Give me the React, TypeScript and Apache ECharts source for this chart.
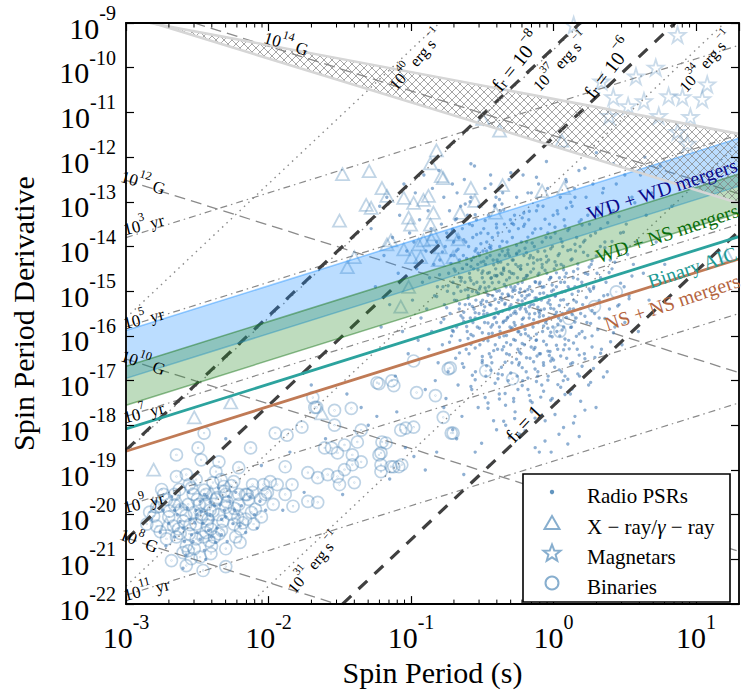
import React, { useEffect, useRef } from "react";
import * as echarts from "echarts";

const FONT = "'Liberation Serif', 'DejaVu Serif', serif";

// axis extents (log10 of spin period in s, log10 of period derivative)
const logPExtent = [-3, Math.log10(20)];
const logPdotExtent = [-22, -9];

// Radio pulsars [log10 P, log10 Pdot] (outer / spread part)
const radioPsrsSpread = [
  [-1.28,-13.6],[-1.25,-14.9],[-1.22,-13.1],[-1.21,-15.8],
  [-1.19,-14.2],[-1.17,-12.9],[-1.15,-15.3],[-1.13,-13.8],[-1.11,-16.9],
  [-1.09,-14.6],[-1.08,-13.3],[-1.06,-15.9],[-1.05,-12.6],[-1.03,-14.1],[-1.02,-16.4],[-1.01,-13.7],
  [-0.99,-15.2],[-0.98,-13.9],[-0.97,-12.8],[-0.96,-14.5],[-0.95,-16.1],[-0.94,-13.4],[-0.93,-15.6],[-0.92,-14.8],[-0.91,-12.4],[-0.9,-17.2],
  [-0.895,-14.1],[-0.89,-15.4],[-0.88,-13.2],[-0.875,-16.3],[-0.87,-14.7],[-0.86,-13.6],[-0.855,-15.9],[-0.85,-12.7],[-0.84,-14.4],[-0.835,-15.1],[-0.83,-17.0],[-0.82,-13.9],[-0.815,-14.9],[-0.81,-16.6],[-0.805,-12.3],
  [-0.798,-14.3],[-0.79,-15.7],[-0.787,-13.5],[-0.78,-16.2],[-0.776,-14.9],[-0.77,-12.9],[-0.766,-15.3],[-0.76,-14.0],[-0.755,-17.4],[-0.75,-13.7],[-0.745,-15.0],[-0.74,-16.8],[-0.736,-14.6],[-0.73,-13.2],[-0.726,-15.5],[-0.72,-14.2],[-0.716,-16.0],[-0.71,-12.6],[-0.706,-14.8],[-0.703,-15.9],[-0.701,-13.9],[-0.708,-18.1],
  [-0.698,-14.5],[-0.695,-15.2],[-0.69,-13.4],[-0.687,-16.5],[-0.683,-14.1],[-0.68,-15.8],[-0.677,-12.8],[-0.673,-14.9],[-0.67,-17.1],[-0.666,-13.8],[-0.662,-15.4],[-0.66,-14.3],[-0.656,-16.1],[-0.652,-13.1],[-0.65,-15.0],[-0.646,-14.7],[-0.643,-17.8],[-0.64,-13.6],[-0.636,-15.6],[-0.633,-14.2],[-0.63,-16.7],[-0.626,-12.5],[-0.622,-14.8],[-0.62,-15.3],[-0.616,-13.9],[-0.613,-16.3],[-0.61,-14.4],[-0.606,-15.9],[-0.603,-13.3],[-0.601,-14.96],
  [-0.598,-15.1],[-0.596,-14.0],[-0.593,-16.4],[-0.59,-13.5],[-0.587,-14.7],[-0.584,-15.6],[-0.58,-12.9],[-0.577,-14.3],[-0.574,-17.2],[-0.57,-15.0],[-0.567,-13.8],[-0.564,-16.0],[-0.561,-14.5],[-0.558,-15.4],[-0.555,-12.2],[-0.551,-14.1],[-0.548,-16.8],[-0.545,-15.2],[-0.541,-13.4],[-0.538,-14.8],[-0.535,-15.8],[-0.532,-14.4],[-0.529,-17.6],[-0.526,-13.1],[-0.523,-15.5],[-0.52,-14.2],[-0.517,-16.2],[-0.514,-14.9],[-0.511,-13.7],[-0.508,-15.3],[-0.505,-18.4],[-0.503,-14.6],[-0.501,-16.6],[-0.586,-13.0],[-0.566,-15.7],[-0.543,-14.05],[-0.527,-15.05],[-0.509,-14.35],
  [-0.498,-15.2],[-0.495,-14.1],[-0.492,-16.1],[-0.49,-13.6],[-0.487,-14.8],[-0.484,-15.7],[-0.481,-12.7],[-0.478,-14.4],[-0.475,-16.9],[-0.472,-15.0],[-0.469,-13.9],[-0.466,-15.5],[-0.463,-14.6],[-0.46,-17.5],[-0.457,-13.3],[-0.454,-14.9],[-0.451,-16.4],[-0.448,-15.3],[-0.445,-14.2],[-0.442,-12.4],[-0.439,-15.8],[-0.436,-14.7],[-0.433,-16.6],[-0.43,-13.8],[-0.427,-15.1],[-0.424,-14.3],[-0.421,-17.9],[-0.418,-15.6],[-0.415,-13.1],[-0.412,-14.95],[-0.409,-16.2],[-0.406,-14.5],[-0.403,-15.4],[-0.401,-13.5],[-0.496,-14.55],[-0.483,-15.35],[-0.468,-14.25],[-0.455,-15.95],[-0.44,-14.05],[-0.428,-15.75],[-0.413,-14.65],[-0.404,-12.9],
  [-0.398,-15.0],[-0.396,-14.3],[-0.393,-16.3],[-0.39,-13.7],[-0.387,-15.5],[-0.384,-14.8],[-0.381,-17.3],[-0.378,-14.0],[-0.375,-15.9],[-0.372,-13.2],[-0.369,-14.6],[-0.366,-16.7],[-0.363,-15.2],[-0.36,-14.1],[-0.357,-12.8],[-0.354,-15.7],[-0.351,-14.5],[-0.348,-16.0],[-0.345,-13.5],[-0.342,-15.3],[-0.339,-14.2],[-0.336,-18.0],[-0.333,-14.9],[-0.33,-16.4],[-0.327,-13.9],[-0.324,-15.6],[-0.321,-14.4],[-0.318,-17.0],[-0.315,-15.1],[-0.312,-12.5],[-0.309,-14.7],[-0.306,-15.8],[-0.303,-13.4],[-0.301,-16.2],[-0.397,-14.65],[-0.385,-15.25],[-0.371,-14.35],[-0.359,-15.45],[-0.346,-14.85],[-0.334,-15.65],[-0.32,-14.15],[-0.308,-15.35],[-0.389,-16.85],[-0.362,-13.05],[-0.337,-17.55],
  [-0.298,-15.3],[-0.295,-14.6],[-0.292,-16.6],[-0.289,-13.8],[-0.286,-15.0],[-0.283,-14.3],[-0.28,-17.4],[-0.277,-15.7],[-0.274,-13.3],[-0.271,-14.9],[-0.268,-16.1],[-0.265,-14.4],[-0.262,-15.5],[-0.259,-12.9],[-0.256,-16.9],[-0.253,-14.7],[-0.25,-15.2],[-0.247,-13.6],[-0.244,-15.9],[-0.241,-14.1],[-0.238,-18.2],[-0.235,-15.4],[-0.232,-14.5],[-0.229,-16.4],[-0.226,-13.9],[-0.223,-15.1],[-0.22,-14.8],[-0.217,-17.0],[-0.214,-12.4],[-0.211,-15.6],[-0.208,-14.2],[-0.205,-16.2],[-0.203,-13.5],[-0.201,-15.0],[-0.296,-15.85],[-0.284,-14.95],[-0.27,-15.45],[-0.258,-14.15],[-0.245,-16.65],[-0.233,-14.95],[-0.221,-15.75],[-0.209,-13.25],[-0.273,-17.85],[-0.249,-14.45],[-0.227,-15.35],
  [-0.198,-15.4],[-0.195,-14.7],[-0.192,-16.8],[-0.189,-13.9],[-0.186,-15.1],[-0.183,-14.4],[-0.18,-17.2],[-0.177,-16.0],[-0.174,-13.4],[-0.171,-15.6],[-0.168,-14.9],[-0.165,-16.5],[-0.162,-14.2],[-0.159,-15.3],[-0.156,-12.8],[-0.153,-17.7],[-0.15,-15.0],[-0.147,-13.7],[-0.144,-15.8],[-0.141,-14.5],[-0.138,-16.3],[-0.135,-14.0],[-0.132,-15.5],[-0.129,-18.5],[-0.126,-14.8],[-0.123,-16.1],[-0.12,-13.2],[-0.117,-15.2],[-0.114,-14.3],[-0.111,-16.9],[-0.108,-15.7],[-0.105,-12.6],[-0.102,-14.6],[-0.197,-15.95],[-0.184,-14.65],[-0.17,-15.35],[-0.157,-16.25],[-0.143,-14.25],[-0.13,-15.15],[-0.116,-16.45],[-0.104,-15.45],[-0.163,-17.45],
  [-0.098,-15.5],[-0.095,-14.8],[-0.092,-16.4],[-0.089,-13.6],[-0.086,-15.2],[-0.083,-17.1],[-0.08,-14.4],[-0.077,-15.9],[-0.074,-13.1],[-0.071,-16.6],[-0.068,-14.9],[-0.065,-15.4],[-0.062,-14.1],[-0.059,-17.9],[-0.056,-15.7],[-0.053,-13.8],[-0.05,-16.2],[-0.047,-14.6],[-0.044,-15.1],[-0.041,-12.7],[-0.038,-16.9],[-0.035,-14.3],[-0.032,-15.6],[-0.029,-13.5],[-0.026,-16.0],[-0.023,-15.3],[-0.02,-14.7],[-0.017,-18.6],[-0.014,-15.0],[-0.011,-16.5],[-0.008,-14.0],[-0.005,-15.8],[-0.003,-13.3],[-0.096,-15.05],[-0.072,-15.55],[-0.049,-14.35],[-0.025,-16.35],[-0.009,-17.4],
  [0.002,-15.4],[0.005,-14.5],[0.008,-16.7],[0.011,-13.7],[0.014,-15.1],[0.017,-17.5],[0.02,-14.9],[0.023,-15.9],[0.026,-13.2],[0.029,-16.3],[0.032,-14.2],[0.035,-15.6],[0.038,-18.2],[0.041,-14.7],[0.044,-16.0],[0.047,-12.9],[0.05,-15.2],[0.053,-14.4],[0.056,-16.8],[0.059,-13.9],[0.062,-15.5],[0.065,-14.0],[0.068,-17.0],[0.071,-15.8],[0.074,-13.4],[0.077,-14.8],[0.08,-16.2],[0.083,-15.0],[0.086,-12.5],[0.089,-14.6],[0.092,-16.5],[0.096,-15.3],
  [0.102,-14.9],[0.106,-16.1],[0.11,-13.6],[0.114,-15.4],[0.118,-17.3],[0.122,-14.3],[0.126,-15.8],[0.13,-13.1],[0.134,-16.6],[0.138,-14.7],[0.142,-15.2],[0.146,-12.7],[0.15,-17.8],[0.154,-14.1],[0.158,-15.6],[0.162,-13.8],[0.166,-16.3],[0.17,-14.5],[0.174,-15.0],[0.178,-12.3],[0.182,-16.9],[0.186,-14.0],[0.19,-15.5],[0.194,-13.4],[0.198,-14.8],
  [0.204,-15.3],[0.21,-13.9],[0.216,-16.4],[0.222,-14.6],[0.228,-12.9],[0.234,-15.7],[0.24,-14.2],[0.246,-17.1],[0.252,-13.5],[0.258,-15.0],[0.264,-14.4],[0.27,-16.0],[0.276,-12.6],[0.282,-14.9],[0.288,-15.5],[0.294,-13.7],[0.298,-17.6],[0.249,-14.95],
  [0.305,-14.6],[0.312,-13.3],[0.32,-15.6],[0.328,-14.0],[0.336,-16.3],[0.344,-12.8],[0.352,-15.1],[0.36,-13.9],[0.368,-14.8],[0.376,-16.8],[0.384,-13.1],[0.392,-15.4],[0.398,-14.3],
  [0.41,-14.5],[0.42,-13.2],[0.43,-15.8],[0.44,-12.6],[0.45,-14.1],[0.46,-15.3],[0.47,-13.7],[0.48,-16.2],[0.495,-14.9],
  [0.51,-13.5],[0.53,-15.1],[0.55,-12.9],[0.56,-14.4],[0.58,-13.9],[0.595,-15.9],
  [0.61,-12.4],[0.63,-14.6],[0.65,-13.3],[0.67,-15.2],[0.69,-12.8],
  [0.72,-13.9],[0.75,-12.2],[0.78,-14.4],[0.83,-13.1],[0.88,-14.7],[0.95,-12.7],
  [-0.58,-12.15],[-0.44,-12.6],[-0.3,-12.35],[-0.18,-12.8],[-0.05,-12.1],[0.09,-12.55],[0.22,-12.25],[0.35,-12.7],[0.5,-12.4],[0.64,-12.0],[-0.38,-12.95],[-0.12,-12.45],[0.15,-12.9],[0.42,-12.15],[0.3,-11.9],
  [-2.05,-18.9],[-1.75,-19.5],[-1.48,-19.55],[-2.08,-20.3],[-2.02,-19.9],[-1.04,-18.5],[-0.98,-18.7],[-1.24,-17.8],[-0.77,-17.6],[-0.68,-18.3],[-0.55,-18.6],[-0.82,-18.6],[-1.45,-17.3],[-1.3,-18.0],[-1.6,-18.3],[-1.15,-19.2],[-0.9,-19.0],[-1.85,-18.6],[-1.9,-19.9],[-1.35,-17.6],[-1.1,-17.7],[-0.63,-19.1],[-0.45,-18.9],[-2.3,-18.3],[-1.7,-17.1],
];

// Radio pulsars, dense core of the normal-pulsar island
const radioPsrsCore = [
  [-0.62,-13.05],[-0.48,-13.42],[-0.35,-13.18],[-0.22,-13.36],[-0.11,-13.09],[0.03,-13.27],[0.18,-13.45],[0.31,-13.12],[0.46,-13.33],[0.57,-13.02],[-0.55,-13.29],[-0.41,-13.07],[-0.29,-13.48],[-0.17,-13.21],[-0.06,-13.39],[0.09,-13.14],[0.24,-13.3],[0.38,-13.47],[-0.68,-13.38],[0.12,-13.01],
  [-0.71,-13.62],[-0.63,-13.85],[-0.57,-13.53],[-0.51,-13.94],[-0.46,-13.71],[-0.4,-13.58],[-0.36,-13.88],[-0.31,-13.66],[-0.26,-13.97],[-0.21,-13.55],[-0.18,-13.79],[-0.13,-13.61],[-0.08,-13.9],[-0.04,-13.7],[0.01,-13.57],[0.05,-13.83],[0.1,-13.64],[0.15,-13.95],[0.2,-13.52],[0.26,-13.76],[0.33,-13.6],[0.41,-13.89],[0.49,-13.68],[-0.44,-13.99],[-0.28,-13.51],[-0.15,-13.92],[-0.02,-13.8],[0.08,-13.54],[-0.54,-13.73],[0.22,-13.86],
  [-0.78,-14.12],[-0.72,-14.38],[-0.67,-14.06],[-0.61,-14.27],[-0.58,-14.45],[-0.53,-14.15],[-0.49,-14.33],[-0.45,-14.02],[-0.42,-14.41],[-0.38,-14.19],[-0.35,-14.48],[-0.32,-14.08],[-0.29,-14.3],[-0.26,-14.17],[-0.23,-14.43],[-0.2,-14.04],[-0.17,-14.26],[-0.14,-14.37],[-0.11,-14.11],[-0.08,-14.47],[-0.05,-14.22],[-0.02,-14.05],[0.01,-14.34],[0.04,-14.16],[0.07,-14.44],[0.1,-14.09],[0.13,-14.28],[0.17,-14.39],[0.21,-14.13],[0.25,-14.46],[0.3,-14.21],[0.36,-14.03],[0.43,-14.35],[0.52,-14.18],[-0.64,-14.49],[-0.56,-14.24],[-0.47,-14.1],[-0.39,-14.36],[-0.31,-14.21],[-0.19,-14.14],[-0.09,-14.29],[0.02,-14.42],[0.12,-14.07],[0.27,-14.32],[-0.7,-14.2],
  [-0.8,-14.63],[-0.74,-14.88],[-0.69,-14.55],[-0.65,-14.77],[-0.62,-14.97],[-0.59,-14.6],[-0.56,-14.84],[-0.53,-14.52],[-0.5,-14.7],[-0.48,-14.93],[-0.45,-14.58],[-0.43,-14.81],[-0.4,-14.66],[-0.38,-14.99],[-0.35,-14.54],[-0.33,-14.75],[-0.3,-14.9],[-0.28,-14.61],[-0.25,-14.83],[-0.23,-14.51],[-0.21,-14.72],[-0.18,-14.96],[-0.16,-14.57],[-0.13,-14.79],[-0.11,-14.64],[-0.08,-14.91],[-0.06,-14.53],[-0.03,-14.74],[-0.01,-14.86],[0.02,-14.59],[0.05,-14.8],[0.08,-14.68],[0.11,-14.95],[0.14,-14.56],[0.17,-14.73],[0.2,-14.87],[0.24,-14.62],[0.28,-14.94],[0.33,-14.7],[0.39,-14.58],[0.47,-14.82],[0.55,-14.66],[-0.66,-14.69],[-0.52,-14.95],[-0.44,-14.71],[-0.36,-14.62],[-0.27,-14.98],[-0.19,-14.65],[-0.1,-14.84],[-0.02,-14.69],[0.07,-14.52],[0.15,-14.9],[-0.58,-14.76],[-0.31,-14.56],[0.0,-14.97],
  [-0.82,-15.12],[-0.75,-15.37],[-0.7,-15.05],[-0.66,-15.28],[-0.63,-15.47],[-0.6,-15.16],[-0.57,-15.34],[-0.54,-15.02],[-0.51,-15.25],[-0.49,-15.44],[-0.46,-15.09],[-0.44,-15.31],[-0.41,-15.18],[-0.39,-15.49],[-0.36,-15.06],[-0.34,-15.27],[-0.31,-15.41],[-0.29,-15.13],[-0.26,-15.35],[-0.24,-15.03],[-0.22,-15.22],[-0.19,-15.46],[-0.17,-15.08],[-0.14,-15.3],[-0.12,-15.15],[-0.09,-15.42],[-0.07,-15.04],[-0.04,-15.26],[-0.02,-15.38],[0.01,-15.11],[0.04,-15.32],[0.07,-15.19],[0.1,-15.45],[0.13,-15.07],[0.16,-15.24],[0.19,-15.39],[0.23,-15.14],[0.27,-15.43],[0.32,-15.21],[0.38,-15.08],[0.45,-15.33],[0.53,-15.17],[-0.68,-15.21],[-0.55,-15.48],[-0.47,-15.23],[-0.37,-15.14],[-0.28,-15.49],[-0.2,-15.16],[-0.11,-15.36],[-0.03,-15.2],[0.06,-15.02],[0.14,-15.4],[-0.59,-15.29],[-0.32,-15.07],[0.02,-15.47],
  [-0.77,-15.62],[-0.71,-15.88],[-0.65,-15.55],[-0.61,-15.79],[-0.58,-15.97],[-0.55,-15.6],[-0.52,-15.83],[-0.49,-15.52],[-0.46,-15.71],[-0.43,-15.94],[-0.41,-15.58],[-0.38,-15.8],[-0.35,-15.67],[-0.33,-15.99],[-0.3,-15.54],[-0.27,-15.76],[-0.25,-15.91],[-0.22,-15.63],[-0.2,-15.85],[-0.17,-15.51],[-0.15,-15.73],[-0.12,-15.96],[-0.1,-15.57],[-0.07,-15.78],[-0.05,-15.65],[-0.02,-15.92],[0.01,-15.53],[0.03,-15.74],[0.06,-15.87],[0.09,-15.59],[0.12,-15.81],[0.15,-15.69],[0.18,-15.95],[0.22,-15.56],[0.26,-15.72],[0.31,-15.86],[0.36,-15.61],[0.42,-15.93],[0.5,-15.7],[-0.63,-15.68],[-0.5,-15.93],[-0.4,-15.7],[-0.32,-15.58],[-0.23,-15.97],[-0.14,-15.64],[-0.04,-15.83],[0.05,-15.66],[0.13,-15.52],[0.2,-15.9],[-0.29,-15.82],
  [-0.73,-16.14],[-0.66,-16.38],[-0.6,-16.06],[-0.55,-16.27],[-0.5,-16.46],[-0.46,-16.11],[-0.42,-16.33],[-0.38,-16.03],[-0.35,-16.24],[-0.31,-16.42],[-0.28,-16.08],[-0.25,-16.3],[-0.22,-16.17],[-0.19,-16.49],[-0.16,-16.05],[-0.13,-16.26],[-0.1,-16.4],[-0.07,-16.12],[-0.04,-16.34],[-0.01,-16.02],[0.02,-16.21],[0.05,-16.45],[0.08,-16.07],[0.11,-16.29],[0.14,-16.16],[0.18,-16.43],[0.22,-16.04],[0.27,-16.25],[0.33,-16.39],[0.4,-16.13],[-0.58,-16.19],[-0.44,-16.47],[-0.33,-16.15],[-0.24,-16.36],[-0.12,-16.09],[-0.03,-16.44],[0.07,-16.31],[0.16,-16.01],[0.29,-16.48],[-0.36,-16.31],
  [-0.64,-16.62],[-0.57,-16.88],[-0.5,-16.55],[-0.44,-16.77],[-0.39,-16.96],[-0.34,-16.59],[-0.3,-16.83],[-0.26,-16.52],[-0.22,-16.71],[-0.18,-16.94],[-0.14,-16.58],[-0.11,-16.8],[-0.07,-16.66],[-0.04,-16.99],[0.0,-16.54],[0.04,-16.76],[0.08,-16.9],[0.12,-16.63],[0.17,-16.85],[0.22,-16.51],[0.28,-16.73],[0.35,-16.92],[-0.47,-16.67],[-0.36,-16.87],[-0.24,-16.6],[-0.13,-16.74],[-0.02,-16.56],[0.1,-16.97],[0.2,-16.68],[-0.55,-16.98],
  [-0.58,-17.13],[-0.48,-17.38],[-0.41,-17.06],[-0.34,-17.29],[-0.28,-17.47],[-0.22,-17.11],[-0.17,-17.33],[-0.12,-17.02],[-0.07,-17.24],[-0.02,-17.44],[0.03,-17.09],[0.08,-17.31],[0.13,-17.19],[0.19,-17.46],[0.26,-17.04],[-0.38,-17.41],[-0.25,-17.2],[-0.09,-17.37],[0.05,-17.15],[-0.15,-17.49],
  [-0.46,-17.62],[-0.35,-17.91],[-0.27,-17.7],[-0.2,-18.12],[-0.13,-17.84],[-0.06,-18.35],[0.01,-17.76],[0.07,-18.05],[0.14,-17.95],[0.22,-17.66],[-0.31,-18.28],[-0.1,-18.6],[0.1,-18.42],[-0.4,-18.1],[0.18,-18.25],
];

// Radio millisecond pulsars
const radioPsrsMsp = [
  [-2.82,-20.1],[-2.79,-19.7],[-2.76,-20.4],[-2.74,-19.9],[-2.72,-20.7],[-2.7,-20.2],[-2.68,-19.6],[-2.66,-20.5],[-2.64,-20.0],[-2.62,-19.8],[-2.6,-20.3],[-2.58,-20.9],[-2.56,-19.5],[-2.55,-20.1],[-2.53,-20.6],[-2.51,-19.9],[-2.5,-20.4],[-2.48,-19.7],[-2.46,-20.2],[-2.45,-20.8],[-2.43,-19.6],[-2.41,-20.0],[-2.4,-20.5],[-2.38,-19.8],[-2.36,-20.3],[-2.35,-19.4],[-2.33,-20.1],[-2.31,-19.9],[-2.29,-20.6],[-2.27,-19.7],[-2.25,-20.2],[-2.23,-19.5],[-2.21,-20.0],[-2.19,-19.8],[-2.16,-20.4],[-2.13,-19.6],[-2.1,-20.0],[-2.06,-19.7],[-2.6,-21.2],[-2.44,-21.0],
  [-2.47,-19.93],[-2.39,-20.12],[-2.52,-20.18],[-2.34,-19.78],[-2.57,-19.85],[-2.42,-20.35],[-2.3,-20.05],[-2.62,-20.15],[-2.45,-19.55],[-2.37,-20.62],[-2.28,-19.6],[-2.54,-20.45],[-2.2,-20.25],[-2.66,-19.9],[-2.48,-20.55],[-2.41,-19.72],[-2.33,-20.45],[-2.59,-20.6],[-2.24,-19.9],[-2.5,-20.0],
];

// X-ray / gamma-ray pulsars
const xrayGammaPsrs = [
  [-1.481,-12.383],[-1.294,-12.316],[-1.204,-12.692],[-1.169,-12.869],[-1.315,-13.068],[-1.28,-13.134],[-1.051,-12.913],[-0.982,-13.024],[-0.878,-12.869],[-1.017,-13.356],
  [-0.843,-13.245],[-1.502,-13.422],[-1.003,-13.51],[-0.864,-13.51],[-0.822,-11.852],[-0.864,-12.139],[-0.788,-12.427],[-0.58,-12.692],[-0.552,-12.98],[-0.656,-13.245],
  [-1.141,-13.864],[-1.169,-13.952],[-1.051,-14.063],[-0.947,-13.952],[-0.996,-14.24],[-0.933,-14.24],[-0.857,-13.842],[-1.398,-14.24],[-1.447,-14.461],[-1.017,-14.903],
  [-1.072,-15.345],[-0.497,-11.145],[-0.379,-11.41],[-0.358,-12.626],[-0.705,-13.731],[-0.795,-14.019],[0.058,-11.631],[-0.774,-12.471],[0.072,-12.692],[-0.08,-12.759],
  [-0.913,-12.958],[-0.843,-13.731],[-0.67,-13.842],[-0.705,-14.24],[-0.406,-13.245],[-0.809,-14.306],[-0.913,-13.864],[-2.265,-17.49],[-2.521,-17.822],[-2.806,-18.993],
  [-1.627,-17.733],[1.216,-14.196],[-2.785,-19.811],[-2.632,-19.701],[-2.404,-19.502],[-2.716,-20.209],
];

// Magnetars
const magnetars = [
  [0.141,-9.044],[0.87,-9.265],[0.578,-10.194],[0.717,-9.995],[0.336,-10.304],[0.419,-10.658],[0.523,-10.857],[0.634,-10.747],[0.391,-11.078],
  [0.738,-11.078],[0.807,-10.636],[0.904,-10.658],[1.078,-10.371],[1.043,-10.702],[0.87,-11.432],[0.939,-11.697],[0.96,-11.1],
];

// Binary pulsars
const binaryPsrs = [
  [-1.689,-17.379],[-1.675,-17.6],[-1.537,-17.667],[-1.419,-17.623],[-1.537,-17.998],[-1.766,-18.043],[-1.87,-18.22],[-1.953,-18.175],[-2.452,-18.175],[-2.494,-18.507],
  [-2.646,-18.662],[-2.126,-18.507],[-2.473,-18.772],[-2.348,-18.816],[-2.209,-18.949],[-2.369,-19.038],[-2.577,-19.104],[-2.646,-19.148],[-2.508,-19.214],[-2.39,-19.281],
  [-2.244,-19.259],[-2.112,-19.325],[-2.036,-19.325],[-1.988,-19.259],[-1.939,-19.325],[-1.835,-19.325],[-1.724,-19.06],[-1.655,-19.17],[-1.585,-19.104],[-1.516,-19.148],
  [-1.502,-19.325],[-1.398,-19.281],[-1.467,-18.993],[-1.412,-18.883],[-1.35,-18.816],[-1.606,-18.507],[-1.558,-18.507],[-1.516,-18.617],[-1.467,-18.441],[-1.412,-18.662],
  [-1.35,-18.109],[-1.377,-18.374],[-1.211,-18.617],[-1.176,-18.396],[-1.141,-18.927],[-1.086,-18.927],[-1.211,-19.038],[-1.037,-18.065],[-0.982,-18.043],[-1.883,-18.927],
  [-2.112,-19.502],[-2.022,-19.546],[-1.883,-19.546],[-1.828,-19.811],[-1.724,-19.701],[-1.655,-19.723],[-1.135,-17.004],[-1.225,-17.07],[-0.961,-17.269],[-0.829,-17.335],
  [-0.725,-16.716],[-0.476,-16.782],[-0.288,-16.959],[0.044,-15.898],[0.107,-15.611],[0.44,-15.014],[-1.072,-18.109],[-0.718,-18.175],[-0.774,-17.822],[-1.204,-18.374],
  [-1.225,-18.662],[-1.211,-18.883],[-1.121,-18.927],[-1.065,-18.883],[0.287,-15.345],[-0.739,-16.738],[-0.705,-18.175],[-0.982,-16.561],[-1.239,-17.048],[-1.121,-17.114],
  [-1.662,-17.6],
  [-2.161,-19.546],[-2.209,-19.546],[-2.313,-19.369],[-2.3,-19.546],[-2.3,-19.834],[-2.209,-19.767],[-2.14,-19.657],[-2.216,-20.055],[-2.32,-20.143],[-2.39,-19.922],
  [-2.438,-19.767],[-2.348,-20.431],[-2.23,-20.497],[-2.3,-20.762],[-2.681,-21.027],[-2.577,-21.138],[-2.459,-21.248],[-2.3,-21.16],[-2.646,-20.497],[-2.667,-20.254],
  [-2.577,-20.696],[-2.521,-20.762],[-2.695,-19.922],[-2.785,-19.834],[-2.806,-20.032],[-2.785,-20.254],[-2.736,-19.546],[-2.66,-19.546],[-2.626,-19.436],[-2.556,-19.325],
  [-2.528,-19.546],[-2.438,-19.546],[-2.563,-19.767],[-2.487,-19.767],[-2.598,-20.143],[-2.508,-20.209],[-2.424,-20.099],[-2.556,-20.431],[-2.459,-20.497],[-2.417,-20.585],
  [-2.563,-20.806],[-2.716,-20.541],[-2.75,-19.436],[-2.612,-19.878],[-2.473,-19.988],[-2.369,-19.657],[-2.265,-19.988],[-2.161,-20.099],[-2.092,-19.878],[-2.057,-19.657],
  [-2.008,-19.502],[-1.967,-19.767],[-2.508,-20.541],[-2.404,-20.32],[-2.244,-20.209],[-2.334,-19.214],[-2.716,-19.657],[-2.834,-19.944],[-2.854,-20.209],[-2.632,-20.32],
  [-2.542,-20.983],[-2.404,-20.873],[-2.196,-20.32],[-2.105,-20.209],
  [-2.41,-19.9],[-2.47,-20.06],[-2.35,-20.0],[-2.52,-19.95],[-2.29,-19.72],[-2.58,-20.02],[-2.43,-20.24],[-2.36,-19.62],[-2.5,-19.66],[-2.24,-19.86],
  [-2.33,-20.35],[-2.62,-20.42],[-2.55,-20.22],[-2.4,-20.7],[-2.2,-20.62],[-2.45,-19.45],[-2.66,-19.78],[-2.31,-19.48],[-2.18,-20.18],[-2.7,-20.05],
  [-2.48,-20.95],[-2.6,-20.85],[-2.26,-19.35],[-2.12,-19.95],[-2.38,-20.5],[-2.76,-20.38],[-2.05,-20.05],[-2.54,-19.4],[-2.15,-19.55],[-2.44,-20.4],
];

// constant magnetic field lines: log10 B [G]; log Pdot = 2 log B - bConst - log P
const bFieldLogG = [8, 10, 12, 14];
const bConst = 39.52;
// characteristic age lines: log10 tau [yr]
const ageLogYr = [3, 5, 7, 9, 11];
const secondsPerYear = 3.156e7;
// spin-down luminosity lines: log10 Edot [erg/s], I = 1e45 g cm^2
const edotLog = [31, 34, 37, 40];
const logMomentInertia = 45;
// f_r lines: log10 f_r, reference luminosity log10 L [erg/s]
const frLog = [0, -6, -8];
const frRefLogL = 29.04;
// hatched region edges [log P, log Pdot]
const hatchUpper = [[-2.83, -9.0], [Math.log10(20), -11.48]];
const hatchLower = [[-2.81, -9.0], [Math.log10(20), -13.03]];
// population bands: log Pdot = log P + offset
const wdwdBand = [-12.88, -13.95];
const wdnsBand = [-13.68, -14.55];
const aicOffset = -15.08;
const nsnsOffset = -15.58;

// ---------------------------------------------------------------
function segment(a: number, b: number) {
  let x0 = logPExtent[0], x1 = logPExtent[1];
  if (a !== 0) {
    const xa = (logPdotExtent[0] - b) / a, xb = (logPdotExtent[1] - b) / a;
    x0 = Math.max(x0, Math.min(xa, xb));
    x1 = Math.min(x1, Math.max(xa, xb));
  }
  if (x0 >= x1) return null;
  return [[x0, a * x0 + b], [x1, a * x1 + b]];
}

function clipLine(p0: number[], d: number[], poly: number[][]) {
  let tmin = -1e9, tmax = 1e9;
  const n = poly.length;
  const cx = poly.reduce((s, p) => s + p[0], 0) / n;
  const cy = poly.reduce((s, p) => s + p[1], 0) / n;
  for (let i = 0; i < n; i++) {
    const a = poly[i], b = poly[(i + 1) % n];
    let nx = -(b[1] - a[1]), ny = b[0] - a[0];
    if (Math.abs(nx) + Math.abs(ny) < 1e-9) continue;
    if (nx * (cx - a[0]) + ny * (cy - a[1]) < 0) { nx = -nx; ny = -ny; }
    const num = nx * (p0[0] - a[0]) + ny * (p0[1] - a[1]);
    const den = nx * d[0] + ny * d[1];
    if (Math.abs(den) < 1e-12) { if (num < 0) return null; continue; }
    const t = -num / den;
    if (den > 0) tmin = Math.max(tmin, t); else tmax = Math.min(tmax, t);
  }
  if (tmin >= tmax) return null;
  return [[p0[0] + tmin * d[0], p0[1] + tmin * d[1]], [p0[0] + tmax * d[0], p0[1] + tmax * d[1]]];
}

const refLine = (name: string, seg: any, color: string, width: number, dash: any, z: number) => ({
  name, type: "line", data: seg, symbol: "none", silent: true, animation: false, z,
  lineStyle: { color, width, type: dash, cap: "butt" },
});

function richStyles(size: number, color: string) {
  return {
    n: { fontFamily: FONT, fontSize: size, lineHeight: Math.round(size * 1.35), verticalAlign: "bottom", fill: color, color },
    s: { fontFamily: FONT, fontSize: Math.round(size * 0.68), lineHeight: Math.round(size * 0.7), verticalAlign: "top", fill: color, color },
    u: { fontFamily: FONT, fontSize: Math.round(size * 0.68), lineHeight: Math.round(size * 0.7), verticalAlign: "bottom", fill: color, color },
    i: { fontFamily: FONT, fontSize: size, lineHeight: Math.round(size * 1.35), verticalAlign: "bottom", fontStyle: "italic", fill: color, color },
  };
}

function label(text: string, x: number, y: number, rotDeg: number, size: number, color = "#000") {
  return {
    type: "text", x, y, rotation: (rotDeg * Math.PI) / 180, z: 100, silent: true,
    style: { text, align: "center", verticalAlign: "middle", fill: color, fontFamily: FONT, fontSize: size, rich: richStyles(size, color) },
  };
}

const lineLabels = [
  label("{n|10}{s|14}{n| G}", 287, 41, -17, 17),
  label("{n|10}{s|12}{n| G}", 144, 180, -17, 17),
  label("{n|10}{s|10}{n| G}", 144, 360, -19, 17),
  label("{n|10}{s|8}{n| G}", 140, 538, -21, 17),
  label("{n|10}{s|3}{n| yr}", 143, 222, 14, 17),
  label("{n|10}{s|5}{n| yr}", 143, 316, 14, 17),
  label("{n|10}{s|7}{n| yr}", 143, 410, 14, 17),
  label("{n|10}{s|9}{n| yr}", 143, 500, 14, 17),
  label("{n|10}{s|11}{n| yr}", 146, 587, 14, 17),
  label("{n|10}{s|40}{n| erg s}{s|−1}", 414, 58, 49, 16),
  label("{n|10}{s|37}{n| erg s}{s|−1}", 559, 60, 46, 16),
  label("{n|10}{s|34}{n| erg s}{s|−1}", 704, 60, 49, 16),
  label("{n|10}{s|31}{n| erg s}{s|−1}", 312, 561, 50, 16),
  label("{n|f}{u|r}{n| = 10}{s|−8}", 514, 60, 51, 20),
  label("{n|f}{u|r}{n| = 10}{s|−6}", 606, 67, 52, 20),
  label("{n|f}{u|r}{n| = 1}", 521, 421, 47, 20),
  label("{n|WD + WD mergers}", 661, 186, 18.5, 20, "#0a0a8c"),
  label("{n|WD + NS mergers}", 666, 230, 18.5, 20, "#0b6e0b"),
  label("{n|Binary AIC}", 691, 264, 18.5, 20, "#1d9a94"),
  label("{n|NS + NS mergers}", 671, 299, 18.5, 20, "#b5653f"),
];

// legend drawn as graphic
const LBX = 552;
const legendRows = [492, 523, 553, 583];
const legendNames = ["{n|Radio PSRs}", "{n|X − ray/}{i|γ}{n| − ray}", "{n|Magnetars}", "{n|Binaries}"];
const markerStroke = "rgba(70,130,180,0.65)";
const starPoints = (cx: number, cy: number, R: number, r: number) => {
  const pts: number[][] = [];
  for (let k = 0; k < 10; k++) {
    const ang = -Math.PI / 2 + (k * Math.PI) / 5;
    const rad = k % 2 === 0 ? R : r;
    pts.push([cx + rad * Math.cos(ang), cy + rad * Math.sin(ang)]);
  }
  return pts;
};
const legendGraphic = [
  { type: "rect", z: 60, shape: { x: 523, y: 474, width: 207, height: 128 }, style: { fill: "#fff", stroke: "#000", lineWidth: 1.6 } },
  { type: "circle", z: 61, shape: { cx: LBX, cy: legendRows[0], r: 2.2 }, style: { fill: "rgba(70,130,180,0.85)" } },
  { type: "polygon", z: 61, shape: { points: [[LBX, legendRows[1] - 7], [LBX - 7.5, legendRows[1] + 6], [LBX + 7.5, legendRows[1] + 6]] }, style: { fill: "none", stroke: markerStroke, lineWidth: 2 } },
  { type: "polygon", z: 61, shape: { points: starPoints(LBX, legendRows[2] + 0.5, 9, 3.8) }, style: { fill: "none", stroke: markerStroke, lineWidth: 2 } },
  { type: "circle", z: 61, shape: { cx: LBX, cy: legendRows[3], r: 6.5 }, style: { fill: "none", stroke: markerStroke, lineWidth: 2 } },
  ...legendNames.map((t, i) => ({
    type: "text", z: 61, x: 587, y: legendRows[i],
    style: { text: t, align: "left", verticalAlign: "middle", fill: "#000", fontFamily: FONT, fontSize: 21, rich: richStyles(21, "#000") },
  })),
];

const tickRich = {
  b: { fontFamily: FONT, fontSize: 30, lineHeight: 40, verticalAlign: "bottom", color: "#000" },
  s: { fontFamily: FONT, fontSize: 20, lineHeight: 20, verticalAlign: "top", color: "#000" },
};
const tickFormatter = (v: number) => (Math.abs(v - Math.round(v)) < 1e-9 ? `{b|10}{s|${Math.round(v)}}` : "");

const minorTicks: number[][] = [];
for (let n = Math.floor(logPExtent[0]); n <= Math.floor(logPExtent[1]); n++) {
  for (let k = 2; k <= 9; k++) {
    const v = n + Math.log10(k);
    if (v > logPExtent[0] && v < logPExtent[1]) minorTicks.push([v, logPdotExtent[0]]);
  }
}

function buildOption() {
  const series: any[] = [];
  bFieldLogG.forEach((e) => {
    const s = segment(-1, 2 * e - bConst);
    if (s) series.push(refLine(`B=1e${e}`, s, "#8a8a8a", 1.3, [11, 6], 1));
  });
  ageLogYr.forEach((e) => {
    const s = segment(1, -(Math.log10(2 * secondsPerYear) + e));
    if (s) series.push(refLine(`tau=1e${e}`, s, "#8a8a8a", 1.2, [7, 4, 1.5, 4], 1));
  });
  const logFourPiSqI = Math.log10(4 * Math.PI * Math.PI) + logMomentInertia;
  edotLog.forEach((e) => {
    const s = segment(3, e - logFourPiSqI);
    if (s) series.push(refLine(`Edot=1e${e}`, s, "#8a8a8a", 1.4, [1.5, 4.5], 1));
  });

  series.push({
    name: "Radio PSRs", type: "scatter", data: [...radioPsrsSpread, ...radioPsrsCore, ...radioPsrsMsp],
    symbol: "circle", symbolSize: 3.4, z: 2, silent: true,
    itemStyle: { color: "rgba(60,118,178,0.72)" },
  });
  series.push({
    name: "Binaries", type: "scatter", data: binaryPsrs, z: 2, silent: true, symbolSize: 12,
    symbol: "path://M20,10 A10,10 0 1,1 0,10 A10,10 0 1,1 20,10 Z M10.5,10 A0.5,0.5 0 1,1 9.5,10 A0.5,0.5 0 1,1 10.5,10 Z",
    itemStyle: { color: "none", borderColor: "rgba(70,130,180,0.44)", borderWidth: 1.7 },
  });
  series.push({
    name: "X-ray/gamma-ray", type: "scatter", data: xrayGammaPsrs, symbol: "triangle", symbolSize: [13, 12], z: 2, silent: true,
    itemStyle: { color: "none", borderColor: "rgba(70,130,180,0.42)", borderWidth: 1.8 },
  });
  series.push({
    name: "Magnetars", type: "scatter", data: magnetars, z: 2, silent: true, symbolSize: 16,
    symbol: "path://M50,2 L61.2,36.6 L97.6,36.6 L68.2,58 L79.4,92.6 L50,71.2 L20.6,92.6 L31.8,58 L2.4,36.6 L38.8,36.6 Z",
    itemStyle: { color: "none", borderColor: "rgba(70,130,180,0.36)", borderWidth: 1.8 },
  });

  frLog.forEach((e) => {
    const s = segment(3, frRefLogL - e - logFourPiSqI);
    if (s) series.push(refLine(`fr=1e${e}`, s, "#404040", 3.2, [12, 10], 3));
  });

  const band = (name: string, off: number[], fill: string, edgeColor: string, z: number) => ({
    name, type: "custom", z, silent: true, data: [[logPExtent[0], logPExtent[0] + off[0]]],
    renderItem: (params: any, api: any) => {
      const [x0, x1] = logPExtent;
      const u0 = api.coord([x0, x0 + off[0]]), u1 = api.coord([x1, x1 + off[0]]);
      const l0 = api.coord([x0, x0 + off[1]]), l1 = api.coord([x1, x1 + off[1]]);
      return {
        type: "group",
        children: [
          { type: "polygon", shape: { points: [u0, u1, l1, l0] }, style: { fill, stroke: "none" } },
          { type: "line", shape: { x1: u0[0], y1: u0[1], x2: u1[0], y2: u1[1] }, style: { stroke: edgeColor, lineWidth: 1.5 } },
          { type: "line", shape: { x1: l0[0], y1: l0[1], x2: l1[0], y2: l1[1] }, style: { stroke: edgeColor, lineWidth: 1.5 } },
        ],
      };
    },
  });
  series.push(band("WD + WD mergers", wdwdBand, "rgba(30,144,255,0.3)", "rgba(30,144,255,0.45)", 5));
  series.push(band("WD + NS mergers", wdnsBand, "rgba(40,140,40,0.3)", "rgba(30,120,30,0.5)", 5));

  series.push({
    name: "hatch", type: "custom", z: 6, silent: true, data: [hatchUpper[0]],
    renderItem: (params: any, api: any) => {
      const poly = [hatchUpper[0], hatchUpper[1], hatchLower[1], hatchLower[0]].map((p) => api.coord(p));
      const children: any[] = [];
      const step = 8;
      [1, -1].forEach((dir) => {
        const cs = poly.map((p: number[]) => p[1] - dir * p[0]);
        const cmin = Math.min(...cs), cmax = Math.max(...cs);
        for (let c = Math.ceil(cmin / step) * step; c <= cmax; c += step) {
          const sg = clipLine([0, c], [1, dir], poly);
          if (sg) children.push({ type: "line", shape: { x1: sg[0][0], y1: sg[0][1], x2: sg[1][0], y2: sg[1][1] }, style: { stroke: "#7e7e7e", lineWidth: 0.7 } });
        }
      });
      const edge = (a: number[], b: number[]) => ({ type: "line", shape: { x1: a[0], y1: a[1], x2: b[0], y2: b[1] }, style: { stroke: "#d6d6d6", lineWidth: 2.6 } });
      children.push(edge(poly[0], poly[1]), edge(poly[3], poly[2]));
      return { type: "group", children };
    },
  });

  const aic = segment(1, aicOffset);
  if (aic) series.push(refLine("Binary AIC", aic, "#2ca39e", 2.8, "solid", 7));
  const nsns = segment(1, nsnsOffset);
  if (nsns) series.push(refLine("NS + NS mergers", nsns, "#c07a55", 2.8, "solid", 7));

  series.push({
    name: "minor ticks", type: "custom", z: 12, silent: true, data: minorTicks,
    renderItem: (params: any, api: any) => {
      const v = api.value(0);
      const b = api.coord([v, logPdotExtent[0]]);
      const t = api.coord([v, logPdotExtent[1]]);
      return {
        type: "group",
        children: [
          { type: "line", shape: { x1: b[0], y1: b[1], x2: b[0], y2: b[1] - 4.5 }, style: { stroke: "#000", lineWidth: 1 } },
          { type: "line", shape: { x1: t[0], y1: t[1], x2: t[0], y2: t[1] + 4.5 }, style: { stroke: "#000", lineWidth: 1 } },
        ],
      };
    },
  });

  const axisLine = { show: true, onZero: false, lineStyle: { color: "#000", width: 1.8 } };
  const axisTick = { show: true, inside: true, length: 8, lineStyle: { color: "#000", width: 1.2 } };

  return {
    animation: false,
    backgroundColor: "#fff",
    textStyle: { fontFamily: FONT },
    grid: { left: 119, right: 8, top: 23, bottom: 81, containLabel: false },
    xAxis: [
      {
        type: "value", min: logPExtent[0], max: logPExtent[1], interval: 1, position: "bottom", z: 10,
        axisLine, axisTick, splitLine: { show: false },
        axisLabel: { formatter: tickFormatter, rich: tickRich, margin: 8, showMaxLabel: false },
        name: "Spin Period (s)", nameLocation: "middle", nameGap: 46,
        nameTextStyle: { fontFamily: FONT, fontSize: 30, color: "#000" },
      },
      {
        type: "value", min: logPExtent[0], max: logPExtent[1], interval: 1, position: "top", z: 10,
        axisLine, axisTick, splitLine: { show: false }, axisLabel: { show: false },
      },
    ],
    yAxis: [
      {
        type: "value", min: logPdotExtent[0], max: logPdotExtent[1], interval: 1, position: "left", z: 10,
        axisLine, axisTick, splitLine: { show: false },
        axisLabel: { formatter: tickFormatter, rich: tickRich, margin: 10 },
        name: "Spin Period Derivative", nameLocation: "middle", nameGap: 88,
        nameTextStyle: { fontFamily: FONT, fontSize: 30, color: "#000" },
      },
      {
        type: "value", min: logPdotExtent[0], max: logPdotExtent[1], interval: 1, position: "right", z: 10,
        axisLine, axisTick, splitLine: { show: false }, axisLabel: { show: false },
      },
    ],
    series,
    graphic: { elements: [...lineLabels, ...legendGraphic] },
  };
}

export default function App() {
  const ref = useRef<HTMLDivElement>(null);
  useEffect(() => {
    if (!ref.current) return;
    const chart = echarts.init(ref.current, null, { renderer: "svg" });
    chart.setOption(buildOption() as any);
    return () => chart.dispose();
  }, []);
  return <div ref={ref} style={{ position: "fixed", left: 0, top: 0, width: 747, height: 692, background: "#fff" }} />;
}
